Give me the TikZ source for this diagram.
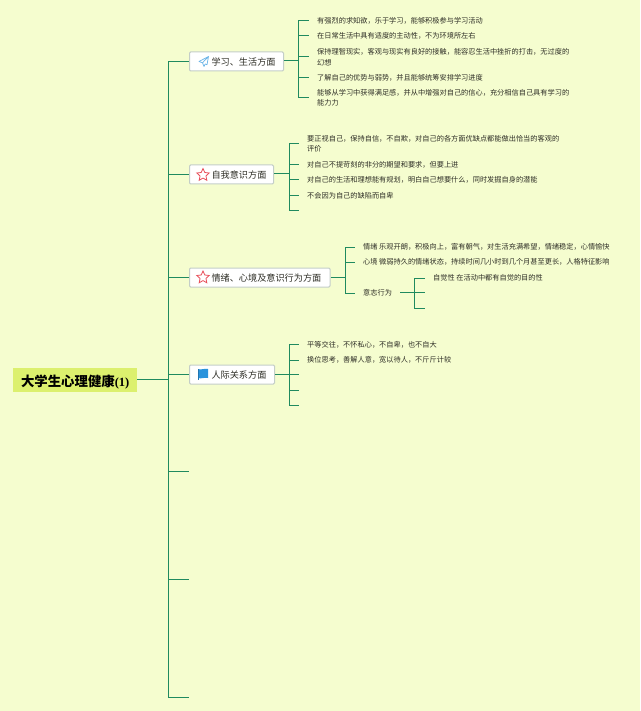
\documentclass[tikz,border=0pt]{standalone}
\usepackage{fontspec}
\setmainfont{Noto Sans CJK SC}
\newfontfamily\latinserif{Liberation Serif}
\usetikzlibrary{shapes.geometric}
\definecolor{bgc}{HTML}{F5FDCF}
\definecolor{linec}{HTML}{1F8A5F}
\definecolor{rootc}{HTML}{DCF06E}
\definecolor{boxline}{HTML}{C4CEC8}
\definecolor{txt}{HTML}{2E2E26}
\definecolor{iconblue}{HTML}{2A93DC}
\definecolor{iconred}{HTML}{E8505B}
\tikzset{
  conn/.style={draw=linec,line width=1pt},
  rootbox/.style={fill=rootc,anchor=west,inner sep=0pt,minimum height=24pt,text width=124pt,align=center,font=\fontsize{13.4pt}{15pt}\selectfont\bfseries,text=black},
  branch/.style={draw=boxline,fill=white,line width=1pt,rounded corners=1.2pt,anchor=west,inner xsep=0pt,inner ysep=0pt,minimum height=19pt,align=left,font=\fontsize{9.15pt}{11pt}\selectfont,text=txt},
  leaf/.style={anchor=west,inner sep=0pt,align=left,font=\fontsize{7.2pt}{10.4pt}\selectfont,text=txt},
  staricon/.style={star,star points=5,star point ratio=2.1,draw=iconred,line width=0.8pt,fill=white,inner sep=0pt,minimum size=13pt}
}
\begin{document}
\begin{tikzpicture}[x=1pt,y=-1pt]
\useasboundingbox (0,0) rectangle (640,711);
\fill[bgc] (0,0) rectangle (640,711);

% hubs
\coordinate (trunk) at (168.5,379.5);
\coordinate (hub1) at (298.5,61);
\coordinate (hub2) at (289,174);
\coordinate (hub3) at (345,277);
\coordinate (hub4) at (289,374.5);
\coordinate (hub5) at (414.5,292.5);

% root and branches
\node[rootbox] (root) at (13,380) {\rule{0pt}{15.5pt}大学生心理健康{\latinserif\fontsize{12.5pt}{15pt}\selectfont (1)}};
\node[branch,text width=94pt] (b1) at (189,61.5) {\hspace*{22pt}\rule{0pt}{9.6pt}学习、生活方面};
\node[branch,text width=84pt] (b2) at (189,174.5) {\hspace*{22pt}\rule{0pt}{9.6pt}自我意识方面};
\node[branch,text width=140.5pt] (b3) at (189,277.5) {\hspace*{22pt}\rule{0pt}{9.6pt}情绪、心境及意识行为方面};
\node[branch,text width=85pt] (b4) at (189,374.5) {\hspace*{22pt}\rule{0pt}{9.6pt}人际关系方面};
\coordinate (e5) at (189,471);
\coordinate (e6) at (189,579);
\coordinate (e7) at (189,697.5);

% icons
\draw[iconblue!70!white,line width=0.7pt,line join=round] (208.5,56.5) -- (199,61.5) -- (202.5,62.8) -- (204,66.5) -- (205.2,64) -- (207,64.8) -- cycle (208.5,56.5) -- (202.5,62.8);
\node[staricon] (s2) at (203,175) {};
\node[staricon] (s3) at (203,277.5) {};
\fill[iconblue] (198,369) .. controls (201,370.3) and (205,368) .. (208,369) -- (208,378) .. controls (205,377) and (201,379.2) .. (198,378) -- cycle;
\fill[iconblue!80!black] (198,369) rectangle (198.7,380);

% leaves of branch 1
\node[leaf] (a1) at (317,20.5) {有强烈的求知欲，乐于学习，能够积极参与学习活动};
\node[leaf] (a2) at (317,36) {在日常生活中具有适度的主动性，不为环境所左右};
\node[leaf] (a3) at (317,57) {保持理智现实，客观与现实有良好的接触，能容忍生活中挫折的打击，无过度的\\幻想};
\node[leaf] (a4) at (317,77.5) {了解自己的优势与弱势，并且能够统筹安排学习进度};
\node[leaf] (a5) at (317,98) {能够从学习中获得满足感，并从中增强对自己的信心，充分相信自己具有学习的\\能力力};

% leaves of branch 2
\node[leaf] (c1) at (307,144) {要正视自己，保持自信，不自欺，对自己的各方面优缺点都能做出恰当的客观的\\评价};
\node[leaf] (c2) at (307,164.5) {对自己不提苛刻的非分的期望和要求，但要上进};
\node[leaf] (c3) at (307,180) {对自己的生活和理想能有规划，明白自己想要什么，同时发掘自身的潜能};
\node[leaf] (c4) at (307,195.5) {不会因为自己的缺陷而自卑};
\coordinate (c5) at (307,210.5);

% leaves of branch 3
\node[leaf] (d1) at (363,247) {情绪 乐观开朗，积极向上，富有朝气，对生活充满希望，情绪稳定，心情愉快};
\node[leaf] (d2) at (363,262) {心境 微弱持久的情绪状态，持续时间几小时到几个月甚至更长，人格特征影响};
\node[leaf] (d3) at (363,293) {意志行为};
\node[leaf] (f1) at (433,278) {自觉性 在活动中都有自觉的目的性};
\coordinate (f2) at (433,292.5);
\coordinate (f3) at (433,308);

% leaves of branch 4
\node[leaf] (g1) at (307,344.5) {平等交往，不怀私心，不自卑，也不自大};
\node[leaf] (g2) at (307,360) {换位思考，善解人意，宽以待人，不斤斤计较};
\coordinate (g3) at (307,374.5);
\coordinate (g4) at (307,390);
\coordinate (g5) at (307,405);

% connectors
\draw[conn] (root.east) ++(0,-0.5) -- (trunk);
\foreach \t in {b1,b2,b3,b4,e5,e6,e7} \draw[conn] (trunk) |- (\t.west);

\draw[conn] (b1.east |- hub1) -- (hub1);
\foreach \t in {a1,a2,a3,a4,a5} \draw[conn] (hub1) |- ([xshift=-8pt]\t.west);

\draw[conn] (b2.east |- hub2) -- (hub2);
\foreach \t in {c1,c2,c3,c4,c5} \draw[conn] (hub2) |- ([xshift=-8pt]\t.west);

\draw[conn] (b3.east |- hub3) -- (hub3);
\foreach \t in {d1,d2,d3} \draw[conn] (hub3) |- ([xshift=-8pt]\t.west);

\draw[conn] ([xshift=8pt]d3.east |- hub5) -- ([xshift=-8pt]f2);
\foreach \t in {f1,f3} \draw[conn] (hub5) |- ([xshift=-8pt]\t.west);

\draw[conn] (b4.east) -- (hub4);
\foreach \t in {g1,g2,g3,g4,g5} \draw[conn] (hub4) |- ([xshift=-8pt]\t.west);
\end{tikzpicture}
\end{document}
